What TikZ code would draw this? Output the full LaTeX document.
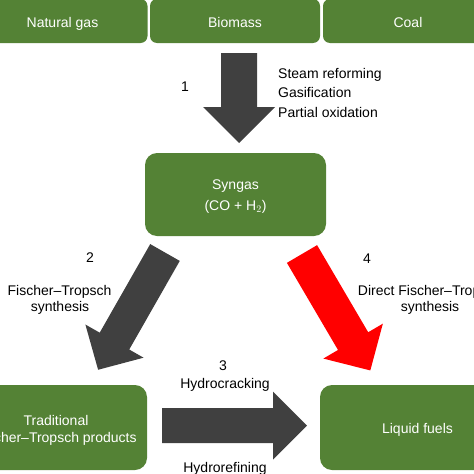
\documentclass[tikz,border=0pt]{standalone}
\usepackage{fontspec}
\setmainfont{Liberation Sans}
\definecolor{boxgreen}{RGB}{84,130,53}
\definecolor{arrowgray}{RGB}{64,64,64}
\definecolor{arrowred}{RGB}{255,0,0}
\newcommand\fatarrow[7]{%
  \begin{scope}[shift={#2},rotate=#3]
    \fill[#1] (0,{-#5/2}) -- ({#4-#7},{-#5/2}) -- ({#4-#7},{-#6/2}) -- (#4,0)
      -- ({#4-#7},{#6/2}) -- ({#4-#7},{#5/2}) -- (0,{#5/2}) -- cycle;
  \end{scope}}
\tikzset{
  greenbox/.style={fill=boxgreen, draw=none, inner sep=0pt},
  intext/.style={text=white, font=\fontsize{14}{17}\selectfont, anchor=base, inner sep=0pt},
  outtext/.style={text=black, font=\fontsize{14}{17}\selectfont, anchor=base, inner sep=0pt},
}
\begin{document}
\begin{tikzpicture}[x=1pt,y=-1pt]
\useasboundingbox (0,0) rectangle (474,474);
\clip (0,0) rectangle (474,474);
% top feedstock boxes
\node[greenbox, rounded corners=7pt, minimum width=170pt, minimum height=44pt] (ng) at (62.5,21) {};
\node[greenbox, rounded corners=7pt, minimum width=170pt, minimum height=44pt] (bm) at (235,21) {};
\node[greenbox, rounded corners=7pt, minimum width=170pt, minimum height=44pt] (coal) at (408,21) {};
\node[intext] (ngt) at (62.5,27) {Natural gas};
\node[intext] (bmt) at (235,27) {Biomass};
\node[intext] (coalt) at (408,27) {Coal};
% syngas
\node[greenbox, rounded corners=12pt, minimum width=181pt, minimum height=83pt] (syn) at (235.5,194.5) {};
\node[intext] (synt1) at (235.5,189) {Syngas};
\node[intext] (synt2) at (235.5,210) {(CO + H$_2$)};
% bottom boxes
\node[greenbox, rounded corners=12pt, minimum width=182pt, minimum height=85pt] (trad) at (56,427.5) {};
\node[intext] (tradt1) at (56,425) {Traditional};
\node[intext] (tradt2) at (56,442) {Fischer–Tropsch products};
\node[greenbox, rounded corners=12pt, minimum width=195pt, minimum height=85pt] (liq) at (417.5,427.5) {};
\node[intext] (liqt) at (417.5,433) {Liquid fuels};
% block arrows
\fatarrow{arrowgray}{(239,53)}{-90}{90}{36}{72}{36}
\fatarrow{arrowgray}{(165,252.5)}{-119.7}{135}{34}{67}{33}
\fatarrow{arrowred}{(302,254)}{-59.6}{135}{35}{69}{34}
\fatarrow{arrowgray}{(162,425.5)}{0}{145}{35}{68}{34}
% labels
\node[outtext] (n1) at (185,91) {1};
\node[outtext, anchor=base west] (l1a) at (278,78) {Steam reforming};
\node[outtext, anchor=base west] (l1b) at (278,97) {Gasification};
\node[outtext, anchor=base west] (l1c) at (278,117) {Partial oxidation};
\node[outtext] (n2) at (90,262) {2};
\node[outtext] (l2a) at (59.5,295) {Fischer–Tropsch};
\node[outtext] (l2b) at (60,311) {synthesis};
\node[outtext] (n4) at (367,263) {4};
\node[outtext] (l4a) at (430,295) {Direct Fischer–Tropsch};
\node[outtext] (l4b) at (430,311) {synthesis};
\node[outtext] (n3) at (223,370) {3};
\node[outtext] (l3a) at (225,388) {Hydrocracking};
\node[outtext] (l3b) at (225,472) {Hydrorefining};
\end{tikzpicture}
\end{document}
